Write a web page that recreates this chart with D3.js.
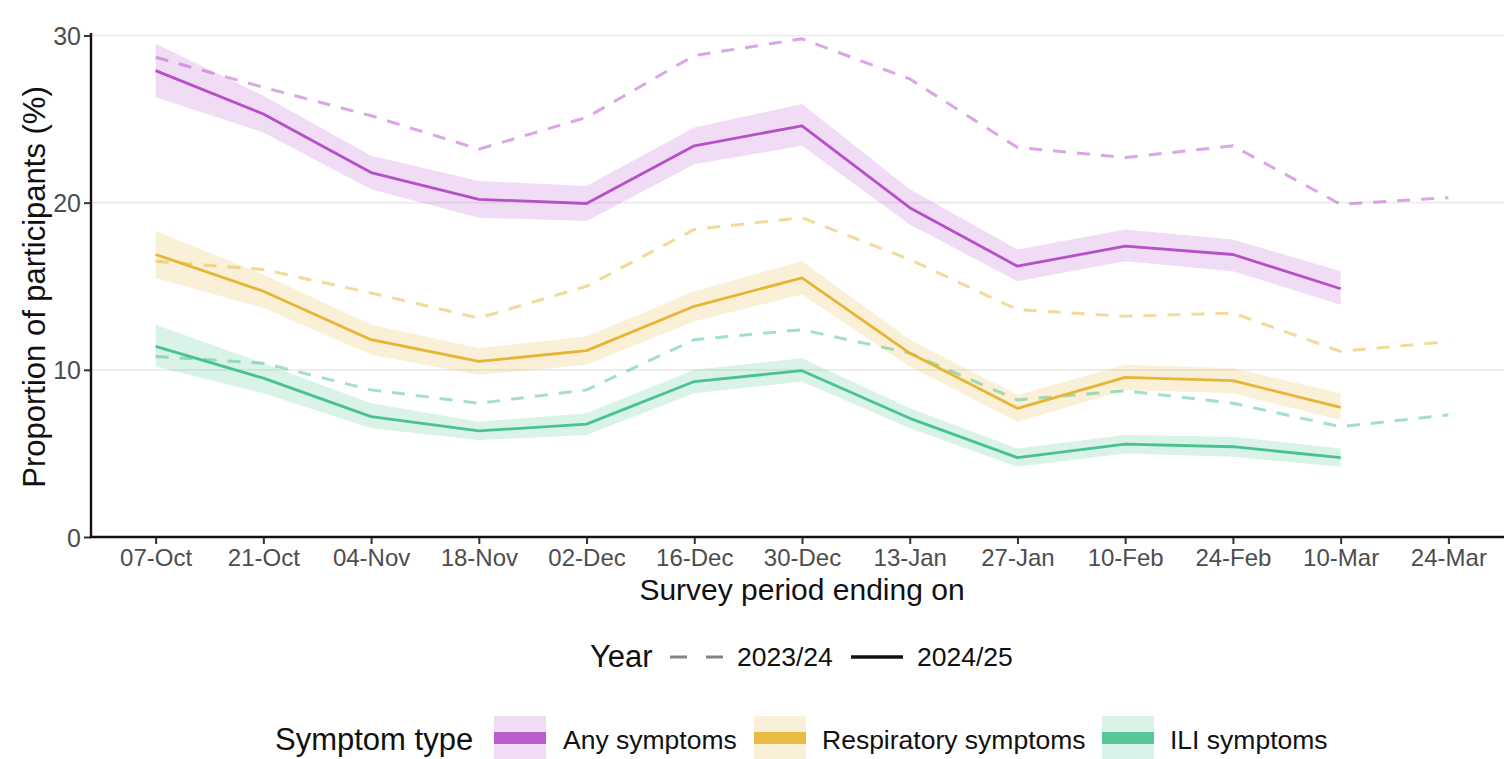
<!DOCTYPE html>
<html>
<head>
<meta charset="utf-8">
<script src="https://cdn.jsdelivr.net/npm/d3@7"></script>
<style>
  html, body { margin: 0; padding: 0; background: #fff; }
  svg { display: block; font-family: "Liberation Sans", Arial, Helvetica, sans-serif; }
</style>
</head>
<body>
<svg id="chart" width="1504" height="759"></svg>
<script>
// ---------- data ----------
const periods = ["07-Oct","21-Oct","04-Nov","18-Nov","02-Dec","16-Dec","30-Dec","13-Jan","27-Jan","10-Feb","24-Feb","10-Mar","24-Mar"];
const yTicks = [0, 10, 20, 30];

// 2023/24 (dashed) – 13 points
const any2324  = [28.7, 26.9, 25.2, 23.2, 25.1, 28.8, 29.8, 27.4, 23.3, 22.7, 23.4, 19.9, 20.3];
const resp2324 = [16.5, 16.0, 14.6, 13.1, 15.0, 18.4, 19.1, 16.6, 13.6, 13.2, 13.4, 11.1, 11.7];
const ili2324  = [10.8, 10.4, 8.8, 8.0, 8.8, 11.8, 12.4, 11.0, 8.2, 8.75, 8.0, 6.6, 7.3];

// 2024/25 (solid) – 12 points with confidence ribbons
const any2425      = [27.9, 25.3, 21.8, 20.2, 19.95, 23.4, 24.6, 19.7, 16.2, 17.4, 16.9, 14.85];
const any2425Lo    = [26.3, 24.2, 20.8, 19.1, 18.9, 22.3, 23.4, 18.7, 15.3, 16.5, 15.9, 13.9];
const any2425Hi    = [29.5, 26.4, 22.8, 21.3, 21.0, 24.5, 25.9, 20.8, 17.2, 18.4, 17.8, 15.9];
const resp2425     = [16.9, 14.7, 11.8, 10.5, 11.15, 13.8, 15.5, 11.0, 7.7, 9.55, 9.35, 7.75];
const resp2425Lo   = [15.5, 13.7, 10.9, 9.7, 10.3, 12.9, 14.5, 10.2, 6.9, 8.8, 8.6, 7.0];
const resp2425Hi   = [18.3, 15.7, 12.7, 11.3, 12.0, 14.7, 16.5, 11.8, 8.5, 10.3, 10.1, 8.6];
const ili2425      = [11.4, 9.5, 7.2, 6.35, 6.75, 9.3, 9.95, 7.1, 4.75, 5.55, 5.4, 4.75];
const ili2425Lo    = [10.2, 8.6, 6.5, 5.8, 6.1, 8.6, 9.3, 6.5, 4.2, 5.0, 4.8, 4.2];
const ili2425Hi    = [12.7, 10.4, 8.0, 6.9, 7.4, 10.0, 10.7, 7.7, 5.3, 6.1, 6.0, 5.3];

const symptomNames = ["Any symptoms", "Respiratory symptoms", "ILI symptoms"];
const symptomColors = ["#b550c9", "#e7b535", "#48c290"];
const yearNames = ["2023/24", "2024/25"];

// ---------- build ----------
const svg = d3.select("#chart");
const plotLeft = 91, plotBottom = 537, plotTop = 33, plotRight = 1513;

const x = d3.scalePoint().domain(periods).range([plotLeft, plotRight]).padding(0.6);
const y = d3.scaleLinear().domain([0, 30]).range([plotBottom, 35.5]);

// grid
svg.append("g").selectAll("line").data(yTicks.filter(d => d > 0)).join("line")
  .attr("x1", plotLeft).attr("x2", 1504)
  .attr("y1", d => y(d)).attr("y2", d => y(d))
  .attr("stroke", "#ebebeb").attr("stroke-width", 1.6);

const series = [
  {name: symptomNames[0], color: symptomColors[0], prev: any2324,  cur: any2425,  lo: any2425Lo,  hi: any2425Hi},
  {name: symptomNames[1], color: symptomColors[1], prev: resp2324, cur: resp2425, lo: resp2425Lo, hi: resp2425Hi},
  {name: symptomNames[2], color: symptomColors[2], prev: ili2324,  cur: ili2425,  lo: ili2425Lo,  hi: ili2425Hi}
];

const line = d3.line().x((d, i) => x(periods[i])).y(d => y(d));
const area = d3.area().x((d, i) => x(periods[i])).y0(d => y(d[0])).y1(d => y(d[1]));

const plot = svg.append("g");
series.forEach(s => {
  plot.append("path")
    .attr("d", area(s.lo.map((v, i) => [v, s.hi[i]])))
    .attr("fill", s.color).attr("fill-opacity", 0.2);
});
series.forEach(s => {
  plot.append("path")
    .attr("d", line(s.prev))
    .attr("fill", "none").attr("stroke", s.color).attr("stroke-opacity", 0.5)
    .attr("stroke-width", 3).attr("stroke-dasharray", "13,11");
});
series.forEach(s => {
  plot.append("path")
    .attr("d", line(s.cur))
    .attr("fill", "none").attr("stroke", s.color)
    .attr("stroke-width", 2.8).attr("stroke-linejoin", "round");
});

// axes
const yAxis = svg.append("g").attr("transform", `translate(${plotLeft},0)`)
  .call(d3.axisLeft(y).tickValues(yTicks).tickSize(7).tickPadding(3));
yAxis.select(".domain").remove();
yAxis.selectAll(".tick line").attr("stroke", "#333").attr("stroke-width", 2);
yAxis.selectAll(".tick text").attr("fill", "#4d4d4d").style("font-size", "25px").attr("dy", "0.36em");

const xAxis = svg.append("g").attr("transform", `translate(0,${plotBottom})`)
  .call(d3.axisBottom(x).tickSize(7).tickPadding(4));
xAxis.select(".domain").remove();
xAxis.selectAll(".tick line").attr("stroke", "#333").attr("stroke-width", 2);
xAxis.selectAll(".tick text").attr("fill", "#4d4d4d").style("font-size", "24px").attr("dy", "0.74em");

svg.append("line").attr("x1", plotLeft).attr("x2", plotLeft).attr("y1", plotTop).attr("y2", plotBottom + 1)
  .attr("stroke", "#111").attr("stroke-width", 2.4);
svg.append("line").attr("x1", plotLeft - 1).attr("x2", 1504).attr("y1", plotBottom).attr("y2", plotBottom)
  .attr("stroke", "#111").attr("stroke-width", 2.4);

// axis titles
svg.append("text").attr("transform", `translate(45,${(plotTop + plotBottom) / 2 + 2}) rotate(-90)`)
  .attr("text-anchor", "middle").style("font-size", "31px").attr("fill", "#111")
  .text("Proportion of participants (%)");
svg.append("text").attr("x", 802).attr("y", 600).attr("text-anchor", "middle")
  .style("font-size", "30px").attr("fill", "#111").text("Survey period ending on");

// legend: Year
const lg1 = svg.append("g");
lg1.append("text").attr("x", 590).attr("y", 667).style("font-size", "31px").attr("fill", "#111").text("Year");
lg1.append("line").attr("x1", 670).attr("x2", 723).attr("y1", 657).attr("y2", 657)
  .attr("stroke", "#333").attr("stroke-width", 3).attr("stroke-dasharray", "17,19").attr("stroke-opacity", 0.6);
lg1.append("text").attr("x", 737).attr("y", 666).style("font-size", "26.5px").attr("fill", "#111").text(yearNames[0]);
lg1.append("line").attr("x1", 851).attr("x2", 903).attr("y1", 657).attr("y2", 657)
  .attr("stroke", "#111").attr("stroke-width", 3.4);
lg1.append("text").attr("x", 917).attr("y", 666).style("font-size", "26.5px").attr("fill", "#111").text(yearNames[1]);

// legend: Symptom type
const lg2 = svg.append("g");
lg2.append("text").attr("x", 275).attr("y", 750).style("font-size", "31px").attr("fill", "#111").text("Symptom type");
const keyX = [494, 754, 1102];
const labX = [563, 822, 1170];
series.forEach((s, i) => {
  lg2.append("rect").attr("x", keyX[i]).attr("y", 716).attr("width", 52).attr("height", 43)
    .attr("fill", s.color).attr("fill-opacity", 0.2);
  lg2.append("rect").attr("x", keyX[i]).attr("y", 732).attr("width", 52).attr("height", 12)
    .attr("fill", s.color).attr("fill-opacity", 0.9);
  lg2.append("text").attr("x", labX[i]).attr("y", 749).style("font-size", "26.5px").attr("fill", "#111").text(s.name);
});
</script>
</body>
</html>
